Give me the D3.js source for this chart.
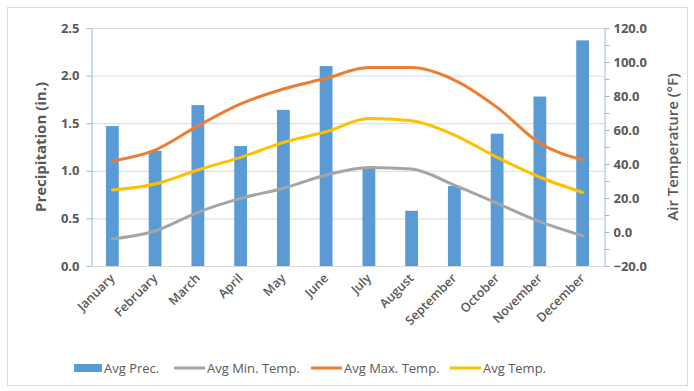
<!DOCTYPE html>
<html><head><meta charset="utf-8">
<script src="https://cdn.jsdelivr.net/npm/d3@7"></script>
<style>body{margin:0;background:#fff;} text{font-family:"Open Sans","Liberation Sans",sans-serif;}</style>
</head><body>
<svg id="c" width="694" height="391"></svg>
<script>
const months = ["January","February","March","April","May","June","July","August","September","October","November","December"];
const avgPrec = [1.47,1.21,1.69,1.26,1.64,2.10,1.03,0.58,0.84,1.39,1.78,2.37];
const avgMin = [-4.1,0.6,11.6,19.8,25.7,33.5,38.0,37.0,27.6,16.9,6.1,-2.2];
const avgMax = [41.8,48.2,62.4,75.3,84.1,90.4,96.7,96.7,89.4,73.3,52.2,42.4];
const avgTemp = [24.7,28.2,36.5,43.9,52.7,59.0,66.7,65.5,57.0,43.9,32.2,23.3];
const precTicks = [0,0.5,1.0,1.5,2.0,2.5];
const tempTicks = [-20,0,20,40,60,80,100,120];

const svg = d3.select("#c");
const L = 91, R = 604, T = 28, B = 266;
const textCol = "#595959";
svg.append("rect").attr("x",7.5).attr("y",7.5).attr("width",680).attr("height",378)
  .attr("fill","#fff").attr("stroke","#d9d9d9");

const x = d3.scaleBand().domain(months).range([L,R]).paddingInner(0.7).paddingOuter(0.35);
const yP = d3.scaleLinear().domain([0,2.5]).range([B,T]);
const yT = d3.scaleLinear().domain([-20,120]).range([B,T]);

// gridlines
svg.append("g").selectAll("line").data(precTicks.slice(1)).join("line")
  .attr("x1",L).attr("x2",R).attr("y1",d=>yP(d)+0.5).attr("y2",d=>yP(d)+0.5)
  .attr("stroke","#d9d9d9").attr("stroke-width",1);

// bars
svg.append("g").selectAll("rect").data(avgPrec).join("rect")
  .attr("x",(d,i)=>x(months[i])).attr("width",x.bandwidth())
  .attr("y",d=>yP(d)).attr("height",d=>B-yP(d)).attr("fill","#5B9BD5");

// lines
const cx = m => x(m)+x.bandwidth()/2;
const line = d3.line().x((d,i)=>cx(months[i])).y(d=>yT(d)).curve(d3.curveMonotoneX);
[[avgMin,"#A5A5A5"],[avgMax,"#ED7D31"],[avgTemp,"#FFC000"]].forEach(([s,c])=>{
  svg.append("path").attr("d",line(s)).attr("fill","none").attr("stroke",c)
    .attr("stroke-width",3).attr("stroke-linecap","round").attr("stroke-linejoin","round");
});

// left axis
const axCol = "#9DB9D6";
const gl = svg.append("g").attr("transform",`translate(${L+0.5},0)`)
  .call(d3.axisLeft(yP).tickValues(precTicks).tickFormat(d3.format(".1f")).tickSize(5).tickSizeOuter(0));
gl.select(".domain").attr("stroke",axCol);
gl.selectAll(".tick line").attr("stroke",axCol);
gl.selectAll("text").attr("fill",textCol).style("font-size","13px").style("font-weight","bold").attr("x",-12);

// right axis with minor ticks
const gr = svg.append("g").attr("transform",`translate(${R+0.5},0)`);
gr.call(d3.axisRight(yT).ticks(14).tickFormat(d=>tempTicks.includes(d)?d3.format(".1f")(d):"").tickSize(5).tickSizeOuter(0));
gr.select(".domain").attr("stroke",axCol);
gr.selectAll(".tick line").attr("stroke",axCol);
gr.selectAll("text").attr("fill",textCol).style("font-size","13px").style("font-weight","bold").attr("x",9);

// bottom axis line
svg.append("line").attr("x1",L).attr("x2",R).attr("y1",B+0.5).attr("y2",B+0.5).attr("stroke","#d9d9d9");

// month labels
svg.append("g").selectAll("text").data(months).join("text")
  .attr("transform",m=>`translate(${cx(m)+3},${B+13}) rotate(-45)`)
  .attr("text-anchor","end").attr("fill",textCol).style("font-size","12.5px").style("font-weight","600")
  .text(d=>d);

// axis titles
svg.append("text").attr("transform",`translate(46,${(T+B)/2}) rotate(-90)`).attr("text-anchor","middle")
  .attr("fill",textCol).style("font-size","15px").style("font-weight","bold").text("Precipitation (in.)");
svg.append("text").attr("transform",`translate(678,${(T+B)/2}) rotate(-90)`).attr("text-anchor","middle")
  .attr("fill",textCol).style("font-size","15px").style("font-weight","600").text("Air Temperature (°F)");

// legend
const legend = [["Avg Prec.","#5B9BD5","bar",74],["Avg Min. Temp.","#A5A5A5","line",174],["Avg Max. Temp.","#ED7D31","line",311],["Avg Temp.","#FFC000","line",450]];
const ly = 368;
legend.forEach(([t,c,k,lx])=>{
  if(k==="bar") svg.append("rect").attr("x",lx).attr("y",ly-4).attr("width",28).attr("height",8).attr("fill",c);
  else svg.append("line").attr("x1",lx).attr("x2",lx+31).attr("y1",ly).attr("y2",ly).attr("stroke",c).attr("stroke-width",3);
  svg.append("text").attr("x",lx+(k==="bar"?30:33)).attr("y",ly+5).attr("fill",textCol).style("font-size","13px").text(t);
});
</script>
</body></html>
